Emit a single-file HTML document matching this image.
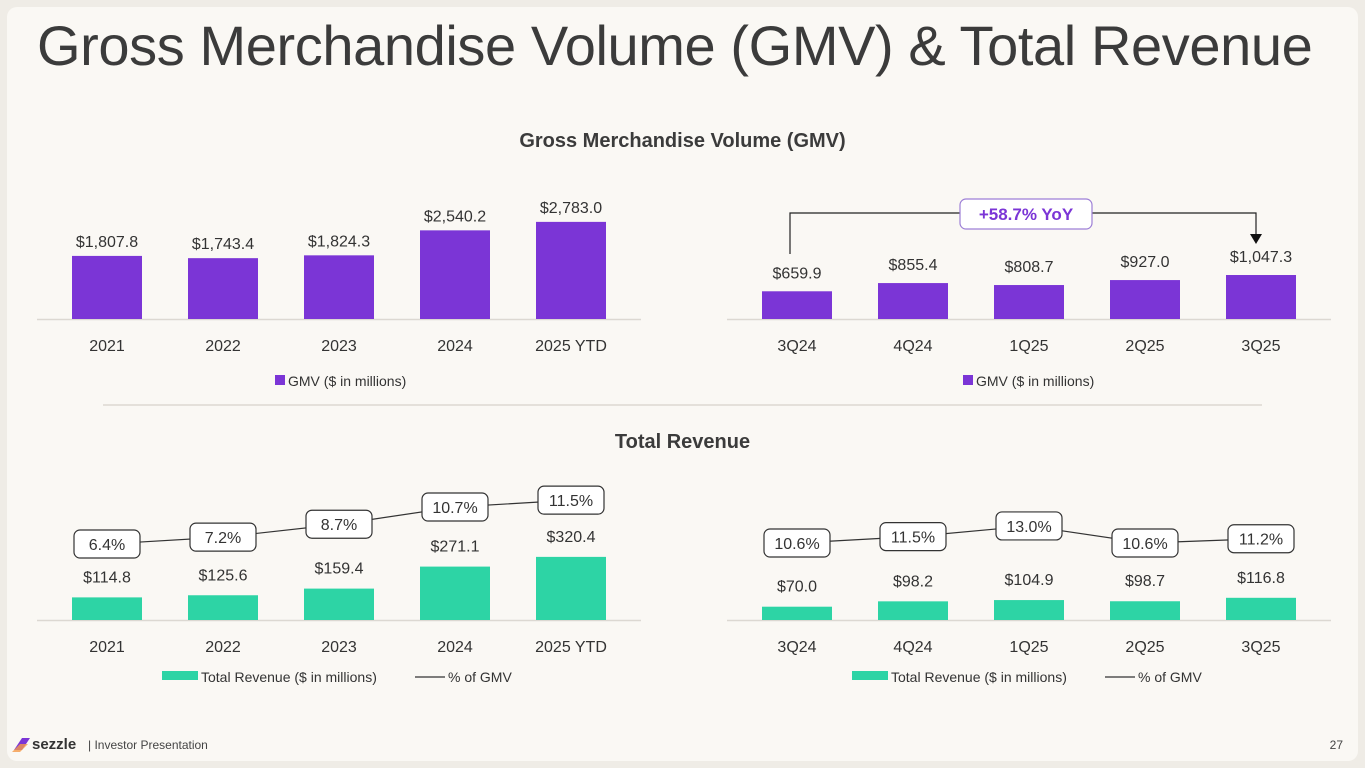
<!DOCTYPE html>
<html><head><meta charset="utf-8"><style>
body{margin:0;width:1365px;height:768px;background:#efece6;font-family:"Liberation Sans",sans-serif;overflow:hidden;position:relative}
#card{position:absolute;left:7px;top:7px;width:1351px;height:754px;background:#faf8f4;border-radius:10px}
#title{position:absolute;left:37px;top:13px;font-size:56px;color:#3b3b3b;white-space:nowrap;letter-spacing:-0.4px}
.sub{position:absolute;width:1365px;text-align:center;font-size:20px;font-weight:bold;color:#3b3b3b}
svg{position:absolute;left:0;top:0}
</style></head><body>
<div id="card"></div>
<div id="title">Gross Merchandise Volume (GMV) &amp; Total Revenue</div>
<div class="sub" style="top:130px">Gross Merchandise Volume (GMV)</div>
<div class="sub" style="top:431px">Total Revenue</div>
<svg id="s" width="1365" height="768"></svg>
<script>
const annualCats=["2021","2022","2023","2024","2025 YTD"];
const quarterCats=["3Q24","4Q24","1Q25","2Q25","3Q25"];
const annualGmv=[1807.8,1743.4,1824.3,2540.2,2783.0];
const quarterGmv=[659.9,855.4,808.7,927.0,1047.3];
const annualRev=[114.8,125.6,159.4,271.1,320.4];
const quarterRev=[70.0,98.2,104.9,98.7,116.8];
const annualPct=[6.4,7.2,8.7,10.7,11.5];
const quarterPct=[10.6,11.5,13.0,10.6,11.2];
const gmvLabelsA=["$1,807.8","$1,743.4","$1,824.3","$2,540.2","$2,783.0"];
const gmvLabelsQ=["$659.9","$855.4","$808.7","$927.0","$1,047.3"];

const S=document.getElementById('s');const NS="http://www.w3.org/2000/svg";
function el(t,a,txt){const e=document.createElementNS(NS,t);for(const k in a)e.setAttribute(k,a[k]);if(txt!==undefined)e.textContent=txt;S.appendChild(e);return e;}
function fmt(v){return "$"+v.toFixed(1);}
function chart(o){
  const x=i=>o.x0+i*116;
  const y=v=>o.base-v*o.k;
  const ax=el('line',{x1:o.x0-70,x2:o.x0+4*116+70,y1:o.base+0.5,y2:o.base+0.5,stroke:'#dcd8d2','stroke-width':1.5});
  
  o.vals.forEach((v,i)=>{
    const b=el('rect',{x:x(i)-35,y:y(v),width:70,height:v*o.k,fill:o.color});
    
    const t=el('text',{x:x(i),y:y(v)-o.lblOff,'text-anchor':'middle','font-size':16,fill:'#333'},o.labels?o.labels[i]:fmt(v));
    
    const c=el('text',{x:x(i),y:o.base+32,'text-anchor':'middle','font-size':16,fill:'#333'},o.cats[i]);
    
  });
  if(o.pct){
    const py=p=>o.p0-(p-o.pRef)*o.pk;
    const pts=o.pct.map((p,i)=>x(i)+","+py(p)).join(" ");
    const l=el('polyline',{points:pts,fill:'none',stroke:'#333','stroke-width':1.2});
    
    o.pct.forEach((p,i)=>{
      const r=el('rect',{x:x(i)-33,y:py(p)-14,width:66,height:28,rx:6,fill:'#fff',stroke:'#333','stroke-width':1.2});
      
      const t=el('text',{x:x(i),y:py(p)+6,'text-anchor':'middle','font-size':16,fill:'#333'},p.toFixed(1)+"%");
      
    });
  }
}
chart({name:'gmv-annual',x0:107,base:319,k:0.0349,vals:annualGmv,labels:gmvLabelsA,cats:annualCats,color:'#7b35d6',lblOff:9});
chart({name:'gmv-quarter',x0:797,base:319,k:0.042,vals:quarterGmv,labels:gmvLabelsQ,cats:quarterCats,color:'#7b35d6',lblOff:13});
chart({name:'rev-annual',x0:107,base:620,k:0.197,vals:annualRev,cats:annualCats,color:'#2dd4a5',lblOff:15,pct:annualPct,p0:544,pRef:6.4,pk:8.6});
chart({name:'rev-quarter',x0:797,base:620,k:0.19,vals:quarterRev,cats:quarterCats,color:'#2dd4a5',lblOff:15,pct:quarterPct,p0:543,pRef:10.6,pk:7.1});

function legend(nm,x,y,color,txt,w,line){
  const r=el('rect',{x:x,y:y-6,width:w,height:w==10?10:9,fill:color});
  
  const t=el('text',{x:x+w+3,y:y+5,'font-size':14,fill:'#333'},txt);
  
  if(line){
    const l=el('line',{x1:line,x2:line+30,y1:y,y2:y,stroke:'#333','stroke-width':1.2});
    
    const t2=el('text',{x:line+33,y:y+5,'font-size':14,fill:'#333'},"% of GMV");
    
  }
}
legend('gmv-annual-legend',275,381,'#7b35d6','GMV ($ in millions)',10);
legend('gmv-quarter-legend',963,381,'#7b35d6','GMV ($ in millions)',10);
legend('rev-annual-legend',162,677,'#2dd4a5','Total Revenue ($ in millions)',36,415);
legend('rev-quarter-legend',852,677,'#2dd4a5','Total Revenue ($ in millions)',36,1105);

const d=el('line',{x1:103,x2:1262,y1:405,y2:405,stroke:'#dcd8d2','stroke-width':1.5});


const a=el('polyline',{points:"790,254 790,213 1256,213 1256,236",fill:'none',stroke:'#222','stroke-width':1.2});

const ah=el('polygon',{points:"1250,234 1262,234 1256,244",fill:'#111'});

const yb=el('rect',{x:960,y:199,width:132,height:30,rx:6,fill:'#fff',stroke:'#9d7fd6','stroke-width':1.2});

const yt=el('text',{x:1026,y:220,'text-anchor':'middle','font-size':17,'font-weight':'bold',fill:'#7b35d6'},"+58.7% YoY");


const lg=el('path',{d:"M22 738 L30 738 L22 750 L14 750 Z",fill:'#7b35d6'});

const lg2=el('path',{d:"M20 744 L28 744 L20 752 L12 752 Z",fill:'#f59a4a',opacity:0.8});

const sz=el('text',{x:32,y:749,'font-size':15,'font-weight':'bold',fill:'#333'},"sezzle");

const ip=el('text',{x:88,y:749,'font-size':12,fill:'#444'},"|  Investor Presentation");

const pn=el('text',{x:1343,y:749,'text-anchor':'end','font-size':12,fill:'#444'},"27");

</script>
</body></html>
